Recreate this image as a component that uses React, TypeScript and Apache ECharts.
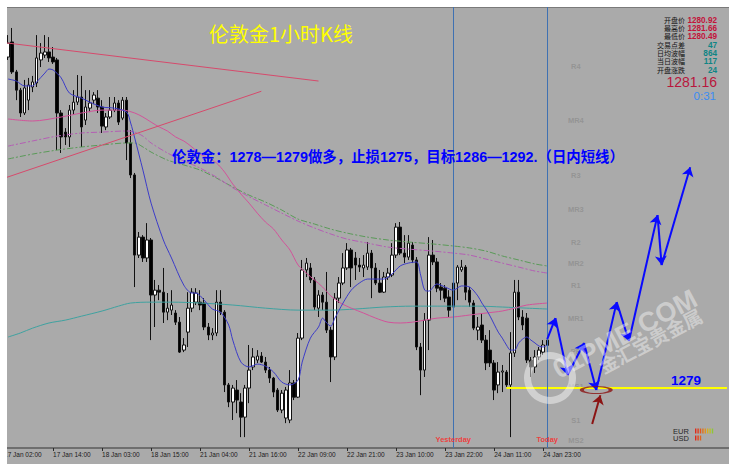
import React, { useEffect, useRef } from 'react';
import * as echarts from 'echarts';

// ---- data ----
const tickLabels = ['17 Jan 02:00', '17 Jan 14:00', '18 Jan 03:00', '18 Jan 15:00', '21 Jan 04:00', '21 Jan 16:00', '22 Jan 09:00', '22 Jan 21:00', '23 Jan 10:00', '23 Jan 22:00', '24 Jan 11:00', '24 Jan 23:00'];
const ticksEvery = 12;
const futureBars = 44;
const yesterdayIdx = 110;
const todayIdx = 133;

// [open, close, low, high]
const ohlc: number[][] = [
  [1293.78, 1294.45, 1293.69, 1294.68], [1293.91, 1294.54, 1293.78, 1294.90], [1294.59, 1293.24, 1293.15, 1295.22], [1293.24, 1292.42, 1291.97, 1293.33],
  [1292.42, 1291.39, 1291.21, 1292.52], [1291.39, 1292.52, 1291.30, 1292.88], [1291.97, 1292.65, 1291.52, 1292.97], [1292.56, 1292.79, 1292.33, 1293.06],
  [1292.74, 1293.87, 1292.56, 1294.90], [1293.78, 1294.09, 1293.46, 1294.54], [1294.00, 1294.14, 1293.87, 1294.90], [1294.14, 1293.87, 1293.69, 1294.81],
  [1293.91, 1293.69, 1293.60, 1294.36], [1293.78, 1291.39, 1289.72, 1293.87], [1291.39, 1290.31, 1289.59, 1291.52], [1290.53, 1290.31, 1289.95, 1290.71],
  [1290.31, 1291.52, 1289.86, 1291.75], [1291.52, 1291.88, 1291.30, 1292.42], [1291.88, 1292.11, 1291.75, 1293.10], [1292.11, 1290.76, 1289.86, 1293.06],
  [1291.07, 1291.66, 1290.85, 1292.42], [1291.61, 1291.84, 1291.43, 1292.42], [1291.97, 1292.20, 1291.79, 1292.33], [1292.06, 1291.66, 1291.39, 1292.42],
  [1291.66, 1290.80, 1290.49, 1291.97], [1290.76, 1291.21, 1290.62, 1291.39], [1291.21, 1291.52, 1291.12, 1292.11], [1291.52, 1291.84, 1291.43, 1292.11],
  [1291.84, 1290.98, 1290.85, 1291.97], [1291.16, 1291.97, 1291.07, 1292.11], [1291.97, 1290.04, 1289.27, 1292.11], [1290.04, 1288.60, 1288.46, 1290.62],
  [1288.60, 1284.99, 1283.55, 1288.69], [1284.99, 1285.80, 1284.86, 1286.03], [1285.80, 1284.86, 1284.68, 1285.89], [1284.86, 1285.67, 1284.68, 1286.43],
  [1285.67, 1283.19, 1281.16, 1285.76], [1283.19, 1283.41, 1281.75, 1283.87], [1283.41, 1283.32, 1282.96, 1283.64], [1283.32, 1282.42, 1281.93, 1284.41],
  [1282.42, 1282.60, 1282.06, 1283.28], [1282.51, 1282.74, 1282.29, 1283.41], [1282.38, 1281.97, 1281.84, 1282.51], [1281.97, 1280.62, 1280.58, 1282.20],
  [1280.71, 1280.94, 1280.62, 1281.25], [1281.52, 1282.60, 1280.85, 1283.32], [1282.60, 1283.32, 1282.42, 1283.50], [1282.87, 1283.28, 1282.74, 1283.50],
  [1282.87, 1282.74, 1282.51, 1283.41], [1282.83, 1281.75, 1281.61, 1283.05], [1281.75, 1281.39, 1281.16, 1281.93], [1281.39, 1281.48, 1281.16, 1281.70],
  [1281.48, 1282.87, 1281.34, 1283.41], [1282.87, 1282.42, 1282.29, 1283.41], [1282.42, 1279.14, 1278.82, 1282.51], [1279.14, 1278.37, 1278.14, 1279.23],
  [1278.37, 1279.00, 1277.56, 1279.14], [1278.91, 1278.46, 1277.87, 1279.36], [1278.37, 1277.69, 1276.79, 1278.77], [1277.69, 1279.00, 1276.79, 1279.14],
  [1279.00, 1279.81, 1278.32, 1280.94], [1279.95, 1280.40, 1279.81, 1280.80], [1280.26, 1280.44, 1280.13, 1280.71], [1280.44, 1280.17, 1280.13, 1280.62],
  [1280.17, 1279.81, 1279.68, 1280.40], [1279.81, 1279.45, 1279.23, 1279.95], [1279.45, 1278.82, 1278.59, 1279.50], [1278.91, 1278.01, 1277.92, 1279.00],
  [1278.01, 1278.77, 1277.87, 1278.91], [1277.65, 1278.91, 1277.42, 1279.05], [1277.56, 1279.23, 1277.42, 1279.81], [1279.23, 1278.59, 1278.46, 1279.36],
  [1278.59, 1281.25, 1278.55, 1281.48], [1281.25, 1284.32, 1281.16, 1284.77], [1284.32, 1284.63, 1284.00, 1284.86], [1284.41, 1283.87, 1283.73, 1284.63],
  [1283.87, 1282.65, 1282.51, 1284.00], [1282.60, 1283.19, 1282.20, 1283.41], [1283.19, 1282.87, 1282.51, 1283.32], [1282.87, 1281.61, 1281.48, 1284.23],
  [1281.61, 1280.40, 1279.27, 1281.75], [1280.40, 1283.05, 1280.26, 1283.28], [1283.05, 1283.73, 1282.83, 1284.00], [1283.73, 1284.41, 1283.64, 1285.08],
  [1284.41, 1285.22, 1284.32, 1285.53], [1285.22, 1284.41, 1283.55, 1285.31], [1284.86, 1284.54, 1283.87, 1285.13], [1284.54, 1284.45, 1284.23, 1284.86],
  [1284.41, 1284.54, 1284.00, 1284.99], [1284.45, 1285.08, 1284.32, 1285.58], [1285.08, 1284.41, 1283.05, 1285.22], [1284.41, 1283.73, 1283.64, 1284.63],
  [1283.73, 1283.32, 1283.28, 1284.32], [1283.32, 1284.00, 1283.28, 1284.23], [1284.00, 1284.18, 1283.87, 1284.41], [1284.09, 1284.99, 1284.00, 1285.53],
  [1284.99, 1286.25, 1284.86, 1286.43], [1286.25, 1285.08, 1284.99, 1286.48], [1285.08, 1284.90, 1284.63, 1285.89], [1284.90, 1285.53, 1284.77, 1285.89],
  [1285.44, 1284.77, 1284.63, 1285.58], [1284.77, 1280.85, 1280.71, 1284.90], [1280.85, 1279.81, 1278.68, 1281.03], [1279.81, 1282.06, 1279.50, 1282.38],
  [1282.06, 1284.99, 1280.71, 1285.80], [1284.99, 1284.68, 1284.54, 1285.67], [1284.68, 1283.50, 1283.32, 1284.86], [1283.55, 1283.41, 1282.96, 1283.73],
  [1283.50, 1283.05, 1282.87, 1283.64], [1283.10, 1282.51, 1282.20, 1283.41], [1282.65, 1283.73, 1282.51, 1284.00], [1283.73, 1284.45, 1282.96, 1284.54],
  [1284.32, 1284.45, 1284.23, 1284.77], [1284.45, 1283.32, 1282.96, 1284.54], [1283.41, 1282.87, 1282.65, 1283.55], [1282.83, 1281.70, 1281.61, 1282.96],
  [1281.61, 1281.75, 1281.16, 1282.20], [1281.84, 1281.16, 1281.03, 1282.38], [1281.16, 1280.13, 1279.81, 1281.39], [1280.71, 1280.13, 1279.95, 1281.61],
  [1280.13, 1278.91, 1278.46, 1280.26], [1279.14, 1279.72, 1278.77, 1280.17], [1279.72, 1279.77, 1278.82, 1280.04], [1279.72, 1279.14, 1279.05, 1279.81],
  [1279.14, 1280.58, 1276.79, 1281.52], [1280.58, 1283.32, 1280.40, 1283.87], [1283.32, 1282.20, 1282.06, 1283.87], [1282.20, 1281.84, 1281.61, 1282.51],
  [1282.15, 1280.26, 1280.13, 1282.38], [1280.26, 1279.95, 1279.50, 1280.40], [1279.95, 1280.40, 1279.68, 1280.71], [1280.40, 1280.71, 1280.26, 1280.85],
  [1280.62, 1280.94, 1280.49, 1281.16], [1280.92, 1281.16, 1280.49, 1281.66],
];

// moving averages, sampled [bar index, price]
const maFast: number[][] = [
  [1, 1292.92], [3, 1292.83], [5, 1292.61], [7, 1292.61], [8, 1292.79], [10, 1293.19], [11, 1293.37], [12, 1293.33], [14, 1292.97],
  [16, 1292.29], [19, 1292.06], [21, 1291.88], [24, 1291.66], [27, 1291.61], [30, 1291.43], [31, 1290.94], [32, 1290.26], [34, 1288.82],
  [36, 1287.33], [39, 1285.67], [41, 1284.86], [44, 1283.64], [46, 1283.28], [47, 1283.28], [49, 1282.96], [51, 1282.56], [53, 1282.42],
  [55, 1281.84], [56, 1281.16], [58, 1280.17], [60, 1279.95], [62, 1280.08], [64, 1279.99], [66, 1279.72], [68, 1279.27], [70, 1279.14],
  [72, 1279.36], [73, 1280.17], [75, 1281.25], [77, 1281.75], [78, 1282.15], [79, 1281.93], [80, 1281.79], [81, 1282.15], [83, 1282.83],
  [85, 1283.41], [87, 1283.73], [89, 1283.91], [91, 1283.91], [93, 1283.91], [95, 1284.14], [97, 1284.50], [99, 1284.63], [101, 1284.68],
  [102, 1284.09], [103, 1283.41], [104, 1283.37], [106, 1283.69], [108, 1283.55], [110, 1283.41], [112, 1283.60], [114, 1283.55],
  [116, 1283.15], [117, 1282.83], [118, 1282.56], [119, 1282.24], [121, 1281.52], [122, 1281.25], [123, 1280.94], [124, 1280.71],
  [125, 1280.71], [126, 1281.03], [127, 1281.21], [128, 1281.30], [129, 1281.16], [130, 1281.03], [131, 1280.89], [132, 1280.85], [133, 1280.94],
];
const maMid: number[][] = [
  [1, 1291.12], [7, 1291.03], [14, 1291.21], [19, 1291.39], [24, 1291.52], [29, 1291.52], [32, 1291.39], [34, 1291.21], [36, 1290.98],
  [38, 1290.76], [40, 1290.58], [42, 1290.31], [44, 1290.13], [46, 1289.86], [48, 1289.54], [50, 1289.36], [52, 1289.14], [54, 1288.73],
  [56, 1288.19], [58, 1287.74], [60, 1287.33], [62, 1286.88], [64, 1286.48], [66, 1286.16], [68, 1285.67], [70, 1285.22], [72, 1284.54],
  [74, 1284.18], [76, 1283.87], [78, 1283.55], [80, 1283.15], [82, 1282.87], [85, 1282.60], [88, 1282.38], [91, 1282.15], [94, 1281.97],
  [97, 1281.93], [100, 1281.97], [103, 1282.06], [106, 1282.15], [110, 1282.20], [114, 1282.29], [118, 1282.38], [122, 1282.47],
  [125, 1282.60], [128, 1282.74], [133, 1282.83],
];
const maSlow: number[][] = [
  [1, 1281.30], [4, 1281.48], [7, 1281.70], [11, 1281.93], [15, 1282.06], [19, 1282.24], [24, 1282.47], [28, 1282.69], [31, 1282.83],
  [36, 1282.87], [41, 1282.87], [48, 1282.83], [56, 1282.74], [64, 1282.60], [72, 1282.51], [80, 1282.51], [86, 1282.56], [93, 1282.65],
  [100, 1282.69], [108, 1282.69], [116, 1282.69], [122, 1282.65], [128, 1282.60], [133, 1282.56],
];
const maGreen: number[][] = [
  [1, 1289.32], [7, 1289.54], [13, 1289.72], [19, 1289.86], [24, 1289.95], [30, 1290.04], [32, 1290.04], [34, 1289.86], [36, 1289.63],
  [40, 1289.27], [44, 1289.05], [48, 1288.82], [52, 1288.46], [56, 1288.06], [60, 1287.69], [64, 1287.38], [68, 1287.02], [72, 1286.61],
  [76, 1286.39], [80, 1286.16], [84, 1285.98], [89, 1285.80], [94, 1285.67], [99, 1285.58], [105, 1285.49], [110, 1285.40], [114, 1285.31],
  [118, 1285.17], [122, 1284.95], [126, 1284.77], [130, 1284.59], [133, 1284.50],
];
const maPurple: number[][] = [
  [1, 1289.90], [7, 1290.13], [13, 1290.35], [19, 1290.49], [24, 1290.53], [30, 1290.58], [32, 1290.53], [34, 1290.35], [36, 1290.04],
  [40, 1289.59], [44, 1289.23], [48, 1288.91], [52, 1288.50], [56, 1288.02], [60, 1287.62], [64, 1287.25], [68, 1286.88], [72, 1286.52],
  [76, 1286.21], [80, 1285.94], [84, 1285.71], [89, 1285.53], [94, 1285.35], [99, 1285.26], [105, 1285.17], [110, 1285.08], [114, 1284.99],
  [118, 1284.81], [122, 1284.63], [126, 1284.45], [130, 1284.27], [133, 1284.18],
];
const trendDown: number[][] = [[0, 1294.56], [77, 1292.83]];
const trendUp: number[][] = [[0, 1288.45], [63, 1292.37]];

const supportLevel = 1279;
const supportFrom = 123;
const projection: number[][] = [
  [133, 1281.2], [135, 1282.15], [138, 1279.59], [142, 1281.03], [145, 1278.91],
  [150, 1282.87], [153, 1281.12], [160, 1286.79], [161, 1284.54], [168, 1288.95],
];
const entryMark = [145, 1278.91];
const redArrow: number[][] = [[144, 1277.38], [146, 1278.68]];

const pivotNames = ['R4', 'MR4', 'R3', 'MR3', 'R2', 'MR2', 'R1', 'MR1', 'PP', 'MS1', 'S1', 'MS2'];
const pivotLevels = [1293.5, 1291.04, 1288.56, 1287.06, 1285.55, 1284.59, 1283.64, 1282.15, 1280.64, 1279.09, 1277.56, 1276.66];
const pivotLabelIdx = 140;
const dayLabelPrice = 1276.7;

const infoLabels = ['开盘价', '最高价', '最低价', '交易点差', '日均波幅', '当日波幅', '开盘涨跌'];
const infoValues = ['1280.92', '1281.66', '1280.49', '47', '864', '117', '24'];
const lastPrice = '1281.16';
const barTimer = '0:31';

const titleText = '伦敦金1小时K线';
const planText = '伦敦金：1278—1279做多，止损1275，目标1286—1292.（日内短线）';
const eurColors = ['#e02a1a', '#e23c1a', '#e2561c', '#e2741c', '#e0921e', '#d8b020', '#b8c22a', '#8ec63a'];
const usdColors = ['#e02a1a', '#e2461a', '#e2641c'];

// ---- chart ----
const categories = Array.from({ length: ohlc.length + futureBars }, (_, i) => String(i));
const showTick = (i: number) => i % ticksEvery === 0 && i / ticksEvery < tickLabels.length;

function buildOption() {
  const rowH = 8.3;
  const infoRows: any[] = [];
  infoLabels.forEach((t, i) => {
    const y = 20.3 + i * rowH;
    infoRows.push({ type: 'text', z: 60, x: 685, y, style: { text: t, fill: '#141414', font: '7px "Liberation Sans", "Noto Sans CJK SC"', textAlign: 'right', textVerticalAlign: 'middle' } });
    infoRows.push({ type: 'text', z: 61, x: 717, y, style: { text: infoValues[i], fill: i < 3 ? '#c2143a' : '#0f8585', font: 'bold 8.2px "Liberation Sans"', textAlign: 'right', textVerticalAlign: 'middle' } });
  });
  const bars: any[] = [];
  eurColors.forEach((c, i) => bars.push({ type: 'rect', z: 60, shape: { x: 695 + i * 2.4, y: 428.5, width: 1.4, height: 5 }, style: { fill: c } }));
  usdColors.forEach((c, i) => bars.push({ type: 'rect', z: 60, shape: { x: 695 + i * 2.4, y: 435.5, width: 1.4, height: 5 }, style: { fill: c } }));

  const rot = (28 * Math.PI) / 180;

  const graphic: any[] = [
    { type: 'rect', z: -100, silent: true, shape: { x: 7, y: 7, width: 722, height: 457 }, style: { fill: '#aaaaaa' } },
    { type: 'line', z: -90, silent: true, shape: { x1: 7, y1: 7.5, x2: 729, y2: 7.5 }, style: { stroke: '#7a7a7a', lineWidth: 1 } },
    { type: 'text', z: 60, x: 209, y: 33, style: { text: titleText, fill: '#ffff00', font: '20px "Noto Sans CJK SC"', textAlign: 'left', textVerticalAlign: 'middle' } },
    { type: 'text', z: 60, x: 172, y: 157, style: { text: planText, fill: '#0000ff', font: 'bold 14.4px "Liberation Sans", "Noto Sans CJK SC"', textAlign: 'left', textVerticalAlign: 'middle' } },
    { type: 'text', z: 60, x: 671, y: 380, style: { text: String(supportLevel), fill: '#0000ff', font: 'bold 13.5px "Liberation Sans"', textAlign: 'left', textVerticalAlign: 'middle' } },
    ...infoRows,
    { type: 'text', z: 61, x: 717, y: 81.5, style: { text: lastPrice, fill: '#b8163c', font: '14px "Liberation Sans"', textAlign: 'right', textVerticalAlign: 'middle' } },
    { type: 'text', z: 61, x: 716, y: 95.5, style: { text: barTimer, fill: '#3a8cf2', font: '11.5px "Liberation Sans"', textAlign: 'right', textVerticalAlign: 'middle' } },
    { type: 'text', z: 60, x: 673, y: 431, style: { text: 'EUR', fill: '#262626', font: '7.5px "Liberation Sans"', textAlign: 'left', textVerticalAlign: 'middle' } },
    { type: 'text', z: 60, x: 673, y: 438.5, style: { text: 'USD', fill: '#262626', font: '7.5px "Liberation Sans"', textAlign: 'left', textVerticalAlign: 'middle' } },
    ...bars,
    // watermark
    { type: 'ring', z: 50, silent: true, shape: { cx: 550, cy: 378, r: 26, r0: 19 }, style: { fill: 'rgba(255,255,255,0.45)' } },
    { type: 'text', z: 50, silent: true, x: 625, y: 334, rotation: rot, style: { text: '01PME.COM', fill: 'rgba(255,255,255,0.42)', font: 'bold 27px "Liberation Sans"', textAlign: 'center', textVerticalAlign: 'middle' } },
    { type: 'text', z: 50, silent: true, x: 650, y: 340, rotation: rot, style: { text: '金汇宝贵金属', fill: 'rgba(255,255,255,0.42)', font: 'bold 19px "Noto Sans CJK SC"', textAlign: 'center', textVerticalAlign: 'middle' } },
    // white frame masks
    { type: 'rect', z: 100, silent: true, shape: { x: 0, y: 0, width: 7, height: 464 }, style: { fill: '#ffffff' } },
    { type: 'rect', z: 100, silent: true, shape: { x: 0, y: 0, width: 729, height: 7 }, style: { fill: '#ffffff' } },
  ];

  const maLine = (data: number[][], color: string, type: any = 'solid') => ({
    type: 'line', data, smooth: 0.3, showSymbol: false, symbol: 'none', z: 3, silent: true,
    lineStyle: { color, width: 1, type },
  });

  const segments = projection.slice(1).map((p, i) => ({ coords: [projection[i], p] }));

  return {
    animation: false,
    backgroundColor: '#ffffff',
    grid: { left: 2, right: 0, top: 7, bottom: 16 },
    xAxis: {
      type: 'category',
      data: categories,
      boundaryGap: true,
      axisLine: { show: true, lineStyle: { color: '#6e6e6e', width: 2 } },
      axisTick: { show: true, alignWithLabel: true, interval: (i: number) => showTick(i), length: 3, lineStyle: { color: '#2a2a2a' } },
      axisLabel: {
        show: true, interval: (i: number) => showTick(i),
        formatter: (_v: string, i: number) => (showTick(i) ? tickLabels[i / ticksEvery] : ''),
        align: 'left', fontSize: 6.5, color: '#1a1a1a', margin: 3, fontFamily: 'Liberation Sans',
      },
      splitLine: { show: false },
    },
    yAxis: { type: 'value', min: 1276.3, max: 1296.165, show: false, splitLine: { show: false } },
    graphic,
    series: [
      {
        type: 'candlestick', data: ohlc, barWidth: 3, z: 2,
        itemStyle: { color: '#ffffff', color0: '#000000', borderColor: '#111111', borderColor0: '#111111', borderWidth: 1 },
        markLine: {
          silent: true, symbol: ['none', 'none'], label: { show: false },
          lineStyle: { color: '#3f71b2', width: 1, type: 'solid' },
          data: [{ xAxis: String(yesterdayIdx) }, { xAxis: String(todayIdx) }],
        },
      },
      maLine(maSlow, '#3fa2a0'),
      maLine(maMid, '#d2539a'),
      maLine(maGreen, '#5a9a58', [6, 2, 2, 2]),
      maLine(maPurple, '#b45eb4', [6, 2, 2, 2]),
      maLine(maFast, '#3c3cc8'),
      { type: 'line', data: trendDown, showSymbol: false, symbol: 'none', z: 3, lineStyle: { color: '#d64a6c', width: 1 } },
      { type: 'line', data: trendUp, showSymbol: false, symbol: 'none', z: 3, lineStyle: { color: '#d64a6c', width: 1 } },
      { type: 'line', data: [[supportFrom, supportLevel], [categories.length - 1, supportLevel]], showSymbol: false, symbol: 'none', z: 4, lineStyle: { color: '#ffff00', width: 2 } },
      {
        type: 'lines', coordinateSystem: 'cartesian2d', z: 5, polyline: false, silent: true,
        symbol: ['none', 'arrow'], symbolSize: 9,
        lineStyle: { color: '#0a0aff', width: 2, opacity: 1, curveness: 0 },
        data: segments,
      },
      {
        type: 'lines', coordinateSystem: 'cartesian2d', z: 5, polyline: false, silent: true,
        symbol: ['none', 'arrow'], symbolSize: 9,
        lineStyle: { color: '#8b1414', width: 2, opacity: 1, curveness: 0 },
        data: [{ coords: redArrow }],
      },
      {
        type: 'scatter', z: 6, silent: true, symbol: 'circle', symbolSize: [29, 7],
        itemStyle: { color: 'rgba(0,0,0,0)', borderColor: '#8b1414', borderWidth: 2 },
        data: [entryMark],
      },
      {
        type: 'scatter', z: 1, silent: true, symbol: 'circle', symbolSize: 1,
        itemStyle: { color: 'rgba(0,0,0,0)' },
        label: { show: true, position: 'inside', formatter: '{b}', color: '#8e8e8e', fontSize: 7.5, fontWeight: 'bold', fontFamily: 'Liberation Sans' },
        data: pivotNames.map((n, i) => ({ name: n, value: [pivotLabelIdx, pivotLevels[i]] })),
      },
      {
        type: 'scatter', z: 7, silent: true, symbol: 'circle', symbolSize: 1,
        itemStyle: { color: 'rgba(0,0,0,0)' },
        label: { show: true, position: 'inside', formatter: '{b}', color: '#ff2222', fontSize: 7.5, fontWeight: 'bold', fontFamily: 'Liberation Sans' },
        data: [
          { name: 'Yesterday', value: [yesterdayIdx, dayLabelPrice] },
          { name: 'Today', value: [todayIdx, dayLabelPrice] },
        ],
      },
    ],
  };
}

export default function App() {
  const ref = useRef<HTMLDivElement>(null);
  useEffect(() => {
    if (!ref.current) return;
    const chart = echarts.init(ref.current, undefined, { renderer: 'svg', width: 729, height: 464 });
    chart.setOption(buildOption() as any);
    return () => chart.dispose();
  }, []);
  return <div ref={ref} style={{ position: 'fixed', left: 0, top: 0, width: 729, height: 464 }} />;
}
